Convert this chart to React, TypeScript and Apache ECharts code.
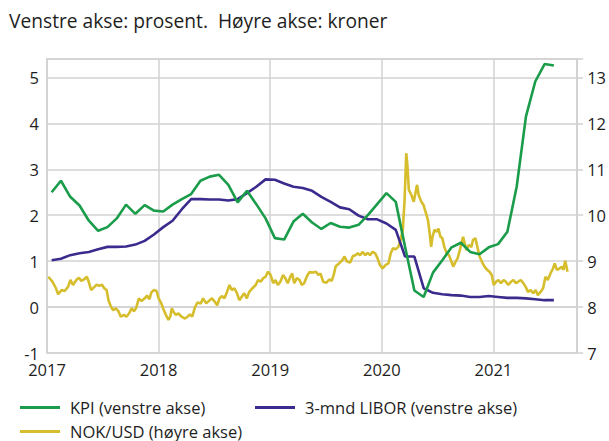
import React, { useEffect, useRef } from "react";
import * as echarts from "echarts";

// Monthly observations, Jan 2017 – Jul 2021
const months: string[] = [];
for (let y = 2017; y <= 2021; y++) {
  for (let m = 1; m <= 12; m++) {
    if (y === 2021 && m > 7) break;
    months.push(`${y}-${String(m).padStart(2, "0")}`);
  }
}

const kpi = [
  2.5, 2.75, 2.4, 2.21, 1.88, 1.66, 1.74, 1.93, 2.23, 2.03, 2.22, 2.1,
  2.08, 2.23, 2.35, 2.46, 2.75, 2.84, 2.88, 2.66, 2.28, 2.53, 2.24, 1.93,
  1.5, 1.47, 1.86, 2.03, 1.84, 1.7, 1.83, 1.75, 1.73, 1.79, 2.0, 2.24,
  2.48, 2.29, 1.31, 0.36, 0.22, 0.75, 1.02, 1.3, 1.4, 1.2, 1.15, 1.3,
  1.37, 1.64, 2.62, 4.15, 4.91, 5.29, 5.26,
];

const libor = [
  1.02, 1.05, 1.13, 1.17, 1.2, 1.26, 1.31, 1.31, 1.32, 1.36, 1.44, 1.58,
  1.74, 1.88, 2.13, 2.35, 2.35, 2.34, 2.34, 2.32, 2.35, 2.48, 2.62, 2.78,
  2.77, 2.69, 2.62, 2.59, 2.53, 2.4, 2.29, 2.17, 2.13, 1.99, 1.91, 1.91,
  1.82, 1.68, 1.1, 1.1, 0.41, 0.31, 0.28, 0.26, 0.25, 0.22, 0.22, 0.24,
  0.22, 0.2, 0.2, 0.19, 0.17, 0.15, 0.15,
];

// NOK/USD: [decimal year, kroner]
const nokUsd: [number, number][] = [
  [2017.012, 8.66], [2017.05, 8.55], [2017.08, 8.41], [2017.1, 8.28], [2017.13, 8.37],
  [2017.159, 8.35], [2017.188, 8.44], [2017.21, 8.59], [2017.233, 8.48], [2017.263, 8.59],
  [2017.286, 8.64], [2017.307, 8.57], [2017.336, 8.61], [2017.357, 8.66], [2017.374, 8.55],
  [2017.396, 8.37], [2017.425, 8.44], [2017.445, 8.49], [2017.469, 8.46], [2017.493, 8.49],
  [2017.513, 8.41], [2017.534, 8.37], [2017.551, 8.15], [2017.573, 8.01], [2017.593, 7.93],
  [2017.617, 7.97], [2017.64, 7.91], [2017.661, 7.79], [2017.69, 7.83], [2017.711, 7.79],
  [2017.735, 7.86], [2017.758, 7.97], [2017.779, 7.91], [2017.799, 7.98], [2017.823, 8.19],
  [2017.847, 8.13], [2017.876, 8.19], [2017.896, 8.25], [2017.918, 8.17], [2017.935, 8.32],
  [2017.958, 8.37], [2017.982, 8.35], [2018.0, 8.19], [2018.024, 8.08], [2018.047, 7.93],
  [2018.065, 7.83], [2018.088, 7.72], [2018.104, 7.79], [2018.118, 7.97], [2018.133, 7.9],
  [2018.153, 7.83], [2018.177, 7.86], [2018.206, 7.79], [2018.236, 7.75], [2018.259, 7.79],
  [2018.281, 7.84], [2018.301, 7.79], [2018.325, 7.99], [2018.348, 8.1], [2018.378, 8.08],
  [2018.398, 8.19], [2018.427, 8.08], [2018.458, 8.15], [2018.478, 8.19], [2018.502, 8.12],
  [2018.525, 8.04], [2018.546, 8.19], [2018.566, 8.24], [2018.59, 8.19], [2018.613, 8.33],
  [2018.635, 8.48], [2018.655, 8.37], [2018.679, 8.41], [2018.702, 8.3], [2018.723, 8.15],
  [2018.743, 8.22], [2018.767, 8.3], [2018.79, 8.19], [2018.812, 8.33], [2018.841, 8.41],
  [2018.87, 8.48], [2018.891, 8.59], [2018.914, 8.55], [2018.938, 8.63], [2018.958, 8.66],
  [2018.98, 8.77], [2019.003, 8.7], [2019.027, 8.52], [2019.047, 8.59], [2019.068, 8.48],
  [2019.091, 8.55], [2019.115, 8.7], [2019.135, 8.63], [2019.157, 8.52], [2019.18, 8.66],
  [2019.197, 8.73], [2019.215, 8.52], [2019.239, 8.63], [2019.263, 8.59], [2019.283, 8.48],
  [2019.304, 8.52], [2019.327, 8.66], [2019.351, 8.76], [2019.381, 8.75], [2019.41, 8.77],
  [2019.431, 8.7], [2019.451, 8.73], [2019.475, 8.55], [2019.504, 8.53], [2019.528, 8.6],
  [2019.551, 8.57], [2019.569, 8.7], [2019.587, 8.89], [2019.617, 8.95], [2019.646, 9.02],
  [2019.666, 9.1], [2019.688, 8.99], [2019.717, 8.97], [2019.741, 9.11], [2019.764, 9.13],
  [2019.785, 9.17], [2019.805, 9.13], [2019.829, 9.2], [2019.852, 9.13], [2019.873, 9.18],
  [2019.894, 9.13], [2019.918, 9.2], [2019.941, 9.17], [2019.962, 9.06], [2019.982, 8.92],
  [2020.006, 8.84], [2020.035, 8.92], [2020.059, 8.95], [2020.08, 9.17], [2020.1, 9.28],
  [2020.124, 9.26], [2020.148, 9.31], [2020.168, 9.46], [2020.188, 9.68], [2020.204, 10.33],
  [2020.219, 11.35], [2020.23, 11.06], [2020.242, 10.55], [2020.265, 10.44], [2020.286, 10.29],
  [2020.301, 10.48], [2020.316, 10.66], [2020.33, 10.44], [2020.354, 10.29], [2020.374, 10.22],
  [2020.396, 10.04], [2020.413, 9.9], [2020.425, 9.68], [2020.442, 9.31], [2020.454, 9.53],
  [2020.472, 9.68], [2020.493, 9.64], [2020.507, 9.71], [2020.525, 9.53], [2020.542, 9.5],
  [2020.56, 9.31], [2020.581, 9.17], [2020.602, 9.13], [2020.619, 9.02], [2020.64, 8.88],
  [2020.661, 8.99], [2020.679, 9.06], [2020.699, 9.24], [2020.714, 9.39], [2020.728, 9.53],
  [2020.758, 9.24], [2020.779, 9.35], [2020.803, 9.31], [2020.817, 9.46], [2020.838, 9.5],
  [2020.856, 9.31], [2020.876, 9.1], [2020.896, 8.99], [2020.92, 8.88], [2020.944, 8.81],
  [2020.965, 8.77], [2020.985, 8.7], [2021.003, 8.48], [2021.024, 8.55], [2021.044, 8.59],
  [2021.068, 8.52], [2021.091, 8.59], [2021.112, 8.55], [2021.133, 8.48], [2021.157, 8.55],
  [2021.18, 8.59], [2021.201, 8.52], [2021.221, 8.55], [2021.245, 8.59], [2021.268, 8.52],
  [2021.289, 8.44], [2021.31, 8.33], [2021.334, 8.37], [2021.357, 8.3], [2021.378, 8.37],
  [2021.398, 8.26], [2021.422, 8.33], [2021.445, 8.41], [2021.466, 8.66], [2021.487, 8.59],
  [2021.511, 8.73], [2021.534, 8.84], [2021.549, 8.95], [2021.569, 8.81], [2021.593, 8.84],
  [2021.613, 8.88], [2021.628, 8.81], [2021.643, 9.01], [2021.664, 8.77],
];

const yearTicks = [2017, 2018, 2019, 2020, 2021];
const subtitle = "Venstre akse: prosent.  Høyre akse: kroner";
const names = ["KPI (venstre akse)", "3-mnd LIBOR (venstre akse)", "NOK/USD (høyre akse)"];
const colors = ["#1a9c4a", "#3c2b8e", "#d6bd2c"];

const FONT = "'Open Sans', 'Noto Sans', sans-serif";
const GRID = "#d2d2d2";
const TXT = "#1e1e1e";

function monthPos(s: string): number {
  const [y, m] = s.split("-").map(Number);
  return y + (m - 0.5) / 12;
}

export default function App() {
  const ref = useRef<HTMLDivElement>(null);
  useEffect(() => {
    if (!ref.current) return;
    const chart = echarts.init(ref.current, undefined, { renderer: "svg" });
    const mx = months.map(monthPos);
    const legendBase = {
      icon: "rect",
      itemWidth: 40,
      itemHeight: 3,
      textStyle: { fontFamily: FONT, fontSize: 16.5, color: TXT, padding: [0, 0, 0, 5] },
    };
    chart.setOption({
      animation: false,
      textStyle: { fontFamily: FONT },
      grid: {
        left: 47, right: 25, top: 59, bottom: 88,
        show: true, borderColor: GRID, borderWidth: 1.5, containLabel: false,
      },
      graphic: [
        {
          type: "text", x: 9, y: 20.5,
          style: {
            text: subtitle, font: `19.2px ${FONT}`, fill: TXT,
            verticalAlign: "middle", align: "left",
          },
        },
      ],
      legend: [
        { ...legendBase, data: [names[0]], left: 15, top: 394 },
        { ...legendBase, data: [names[1]], left: 250, top: 394 },
        { ...legendBase, data: [names[2]], left: 15, top: 418 },
      ],
      xAxis: {
        type: "value", min: 2017, max: 2021.75, interval: 1,
        axisLine: { show: true, lineStyle: { color: GRID, width: 1.5 } },
        axisTick: { show: false },
        splitLine: { show: true, lineStyle: { color: GRID, width: 1.5 } },
        axisLabel: {
          fontSize: 16.5, color: TXT, margin: 8,
          formatter: (v: number) => (yearTicks.includes(v) ? String(v) : ""),
        },
      },
      yAxis: [
        {
          type: "value", min: -1, max: 5.4, interval: 1,
          axisLine: { show: true, lineStyle: { color: GRID, width: 1.5 } },
          axisTick: { show: false },
          splitLine: { show: true, lineStyle: { color: GRID, width: 1.5 } },
          axisLabel: {
            fontSize: 16.5, color: TXT, margin: 8,
            formatter: (v: number) => (Number.isInteger(v) ? String(v) : ""),
          },
        },
        {
          type: "value", min: 7, max: 13.4, interval: 1, position: "right",
          axisLine: { show: true, lineStyle: { color: GRID, width: 1.5 } },
          axisTick: {
            show: true, length: 6, lineStyle: { color: GRID, width: 1.5 },
          },
          splitLine: { show: false },
          axisLabel: {
            fontSize: 16.5, color: TXT, margin: 10,
            formatter: (v: number) => (Number.isInteger(v) ? String(v) : ""),
          },
        },
      ],
      series: [
        {
          name: names[2], type: "line", yAxisIndex: 1, showSymbol: false,
          data: nokUsd, color: colors[2], lineStyle: { width: 2.6, color: colors[2] },
        },
        {
          name: names[1], type: "line", yAxisIndex: 0, showSymbol: false,
          data: libor.map((v, i) => [mx[i], v]), color: colors[1],
          lineStyle: { width: 2.6, color: colors[1] },
        },
        {
          name: names[0], type: "line", yAxisIndex: 0, showSymbol: false,
          data: kpi.map((v, i) => [mx[i], v]), color: colors[0],
          lineStyle: { width: 2.6, color: colors[0] },
        },
      ],
    });
    return () => chart.dispose();
  }, []);
  return (
    <div
      ref={ref}
      style={{ position: "absolute", left: 0, top: 0, width: 609, height: 441, background: "#fff" }}
    />
  );
}
